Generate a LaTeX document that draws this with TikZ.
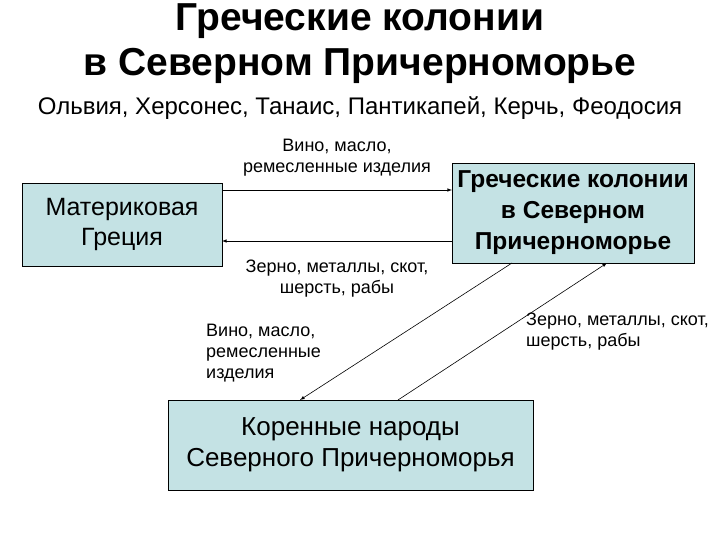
\documentclass[tikz,border=0pt]{standalone}
\usepackage{fontspec}
\setmainfont{Liberation Sans}
\definecolor{boxfill}{RGB}{196,226,228}
\begin{document}
\begin{tikzpicture}[x=1pt,y=-1pt,
  box/.style={draw,thick,fill=boxfill,align=center,inner sep=0pt},
  lbl/.style={align=center,font=\fontsize{18}{21}\selectfont},
  arr/.style={-latex,semithick}]
\useasboundingbox (0,0) rectangle (720,540);
\node[font=\bfseries\fontsize{39}{45}\selectfont,align=center] (title) at (360,44) {Греческие колонии\\в Северном Причерноморье};
\node[font=\fontsize{24}{28}\selectfont] (sub) at (360,108) {Ольвия, Херсонес, Танаис, Пантикапей, Керчь, Феодосия};
\node[box,minimum width=200pt,minimum height=83pt,font=\fontsize{25}{30}\selectfont] (mg) at (122,224.5) {Материковая\\Греция};
\node[box,minimum width=242pt,minimum height=100pt,font=\bfseries\fontsize{24.5}{31}\selectfont] (gk) at (573,213) {Греческие колонии\\в Северном\\Причерноморье};
\node[box,minimum width=365pt,minimum height=90pt,font=\fontsize{26}{31}\selectfont] (kn) at (350.5,445) {Коренные народы\\Северного Причерноморья};
\coordinate (a1) at (222,190); \coordinate (b1) at (452,190);
\coordinate (a2) at (452,241); \coordinate (b2) at (222,241);
\draw[arr] (a1) -- (b1);
\draw[arr] (a2) -- (b2);
\coordinate (c1) at (512,263); \coordinate (d1) at (300,400);
\coordinate (c2) at (398,400); \coordinate (d2) at (607,263);
\draw[arr] (c1) -- (d1);
\draw[arr] (c2) -- (d2);
\node[lbl] (l1) at (337,158) {Вино, масло,\\ремесленные изделия};
\node[lbl] (l2) at (337,279) {Зерно, металлы, скот,\\шерсть, рабы};
\node[lbl,align=left,anchor=north west,inner sep=0pt] (l3) at (206,324) {Вино, масло,\\ремесленные\\изделия};
\node[lbl,align=left,anchor=north west,inner sep=0pt] (l4) at (526,313) {Зерно, металлы, скот,\\шерсть, рабы};
\end{tikzpicture}
\end{document}
